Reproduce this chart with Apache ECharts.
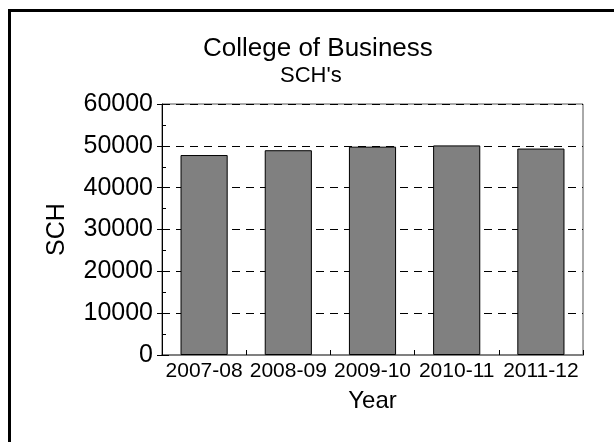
<!DOCTYPE html>
<html>
<head>
<meta charset="utf-8">
<script src="https://cdn.jsdelivr.net/npm/echarts@6/dist/echarts.min.js"></script>
<style>
  html, body { margin: 0; padding: 0; background: #fff; }
  #chart { width: 614px; height: 442px; }
</style>
</head>
<body>
<div id="chart"></div>
<script>
// data
const years = ['2007-08', '2008-09', '2009-10', '2010-11', '2011-12']
const sch = [47800, 48950, 49800, 50100, 49350]
const yMin = 0
const yMax = 60000
const yStep = 10000

const font = 'Liberation Sans, Arial, sans-serif'

const chart = echarts.init(document.getElementById('chart'), null, { renderer: 'canvas' })

const option = {
  backgroundColor: '#fff',
  animation: false,
  title: [
    {
      text: 'College of Business',
      left: 198,
      top: 31,
      textStyle: { fontFamily: font, fontSize: 26, fontWeight: 'normal', color: '#000' }
    },
    {
      text: "SCH's",
      left: 275,
      top: 60,
      textStyle: { fontFamily: font, fontSize: 22, fontWeight: 'normal', color: '#000' }
    }
  ],
  graphic: [
    {
      type: 'rect',
      silent: true,
      shape: { x: 9.5, y: 10.5, width: 620, height: 450 },
      style: { fill: 'none', stroke: '#000', lineWidth: 3 }
    }
  ],
  grid: {
    left: 162,
    right: 31,
    top: 104,
    bottom: 87,
    show: true,
    borderColor: '#555',
    borderWidth: 1
  },
  xAxis: {
    type: 'category',
    data: years,
    name: 'Year',
    nameLocation: 'middle',
    nameGap: 34,
    nameTextStyle: { fontFamily: font, fontSize: 24, color: '#000' },
    axisLine: { lineStyle: { color: '#808080', width: 2 } },
    axisTick: { show: true, inside: true, length: 5, lineStyle: { color: '#000' } },
    axisLabel: { interval: 0, hideOverlap: false, fontFamily: font, fontSize: 21, color: '#000', margin: 6 },
    splitLine: { show: false }
  },
  yAxis: [
    {
      type: 'value',
      min: yMin,
      max: yMax,
      interval: yStep,
      name: 'SCH',
      nameLocation: 'middle',
      nameGap: 92,
      nameTextStyle: { fontFamily: font, fontSize: 25, color: '#000' },
      axisLine: { show: true, lineStyle: { color: '#000', width: 1 } },
      axisTick: { show: true, length: 5, lineStyle: { color: '#000' } },
      axisLabel: {
        fontFamily: font, fontSize: 25, color: '#000', margin: 9,
        formatter: (v) => String(v)
      },
      splitLine: { show: true, lineStyle: { color: '#000', type: [8, 6], width: 1 } }
    },
    {
      type: 'value',
      min: yMin,
      max: yMax,
      interval: yStep,
      position: 'left',
      axisLine: { show: false },
      axisTick: { show: true, inside: true, length: 7, lineStyle: { color: '#000' } },
      minorTick: { show: true, splitNumber: 2, length: 4, lineStyle: { color: '#000' } },
      axisLabel: { show: false },
      splitLine: { show: false }
    }
  ],
  series: [
    {
      type: 'bar',
      data: sch,
      yAxisIndex: 0,
      barCategoryGap: '44%',
      itemStyle: { color: '#808080', borderColor: '#000', borderWidth: 1 }
    }
  ]
}

chart.setOption(option)
</script>
</body>
</html>
